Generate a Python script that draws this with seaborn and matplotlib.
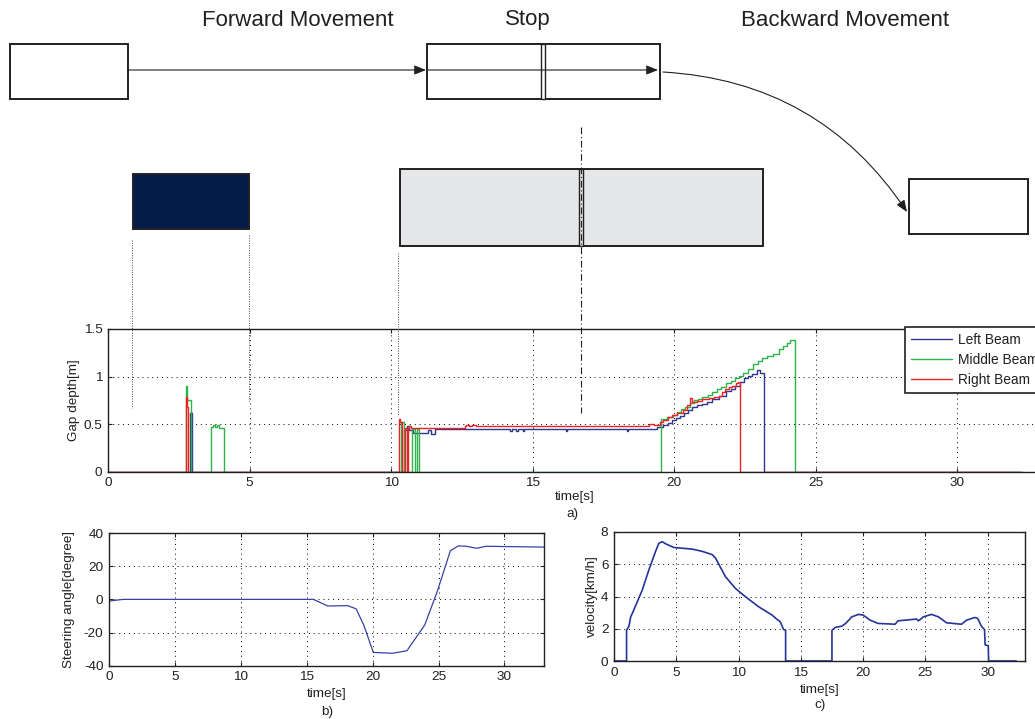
import numpy as np
import pandas as pd
import matplotlib
matplotlib.use("Agg")
import matplotlib.pyplot as plt
from matplotlib.patches import Rectangle, FancyArrowPatch
import seaborn as sns

# ---- values ----
# a) gap depth per beam, step-wise (time [s], depth [m])
left_t = [0, 2.88, 2.97, 10.47, 10.55, 10.62, 10.77, 11.30, 11.42, 11.57, 14.22, 14.27,
          14.42, 14.47, 14.65, 14.70, 16.18, 16.23, 18.33, 18.38, 19.41, 19.60, 19.77,
          19.92, 20.07, 20.22, 20.36, 20.50, 20.65, 20.82, 21.00, 21.18, 21.35, 21.58,
          21.82, 22.00, 22.17, 22.32, 22.47, 22.62, 22.76, 22.94, 23.05, 23.18, 32.3]
left_v = [0, 0.62, 0, 0.44, 0.48, 0.44, 0.41, 0.44, 0.40, 0.45, 0.43, 0.45,
          0.43, 0.45, 0.43, 0.45, 0.43, 0.45, 0.43, 0.45, 0.47, 0.49, 0.51,
          0.54, 0.56, 0.59, 0.62, 0.65, 0.68, 0.70, 0.71, 0.73, 0.76, 0.80,
          0.85, 0.87, 0.90, 0.94, 0.98, 1.01, 1.03, 1.07, 1.04, 0, 0]

middle_t = [0, 2.74, 2.79, 2.93, 3.63, 3.72, 3.78, 3.85, 3.92, 4.09, 10.34, 10.45,
            10.75, 10.83, 10.93, 11.00, 19.53, 19.75, 19.95, 20.10, 20.25, 20.40,
            20.55, 20.70, 20.85, 21.00, 21.20, 21.35, 21.50, 21.65, 21.82, 22.00,
            22.15, 22.30, 22.45, 22.60, 22.80, 22.95, 23.10, 23.30, 23.50, 23.70,
            23.85, 24.00, 24.10, 24.27, 32.3]
middle_v = [0, 0.90, 0.75, 0, 0.47, 0.49, 0.47, 0.49, 0.455, 0, 0.52, 0,
            0.45, 0, 0.45, 0, 0.55, 0.57, 0.60, 0.63, 0.66, 0.68,
            0.72, 0.75, 0.76, 0.79, 0.81, 0.84, 0.87, 0.89, 0.93, 0.95,
            0.98, 1.01, 1.04, 1.08, 1.13, 1.16, 1.20, 1.22, 1.24, 1.29,
            1.32, 1.35, 1.38, 0, 0]

right_t = [0, 2.75, 2.79, 2.84, 10.28, 10.33, 10.38, 10.50, 10.55, 10.60, 10.65,
           10.70, 12.60, 12.65, 12.75, 12.85, 13.00, 13.10, 19.10, 19.30, 19.50,
           19.60, 19.78, 19.94, 20.10, 20.30, 20.45, 20.55, 20.62, 20.80, 21.00,
           21.23, 21.40, 21.60, 21.70, 21.80, 21.95, 22.06, 22.18, 22.27, 22.32, 32.2]
right_v = [0, 0.78, 0.68, 0, 0.55, 0.52, 0, 0.46, 0, 0.46, 0.48,
           0.46, 0.48, 0.49, 0.48, 0.49, 0.48, 0.485, 0.50, 0.49, 0.52,
           0.54, 0.57, 0.60, 0.62, 0.645, 0.70, 0.77, 0.73, 0.74, 0.76,
           0.77, 0.79, 0.80, 0.84, 0.87, 0.89, 0.905, 0.93, 0.94, 0, 0]

# b) steering angle
steer_t = [0, 1.1, 15.5, 16.6, 18.1, 18.75, 19.35, 20.05, 21.5, 22.6, 23.95, 24.9,
           25.9, 26.5, 27.1, 27.9, 28.6, 33]
steer_v = [-1, 0, 0, -4, -3.8, -5.7, -16, -32, -32.5, -31, -15.5, 4.7,
           29.4, 32.2, 32, 30.8, 32, 31.5]

# c) velocity
vel_t = [0, 1.01, 1.01, 1.2, 1.34, 1.47, 2.27, 2.8, 3.34, 3.6, 3.87, 4.14, 4.8,
         6.28, 7.08, 7.88, 8.15, 8.95, 9.75, 10.55, 11.62, 12.69, 13.09, 13.35,
         13.62, 13.78, 13.78, 17.5, 17.5, 17.76, 18.3, 18.6, 19.1, 19.63, 20.0,
         20.57, 21.2, 22.57, 22.8, 24.3, 24.44, 24.6, 24.84, 25.5, 26.04, 26.7,
         27.9, 28.3, 28.97, 29.2, 29.5, 29.75, 29.8, 30.05, 30.08, 32.3]
vel_v = [0, 0, 1.91, 2.16, 2.74, 2.95, 4.4, 5.65, 6.8, 7.3, 7.4, 7.27, 7.04,
         6.94, 6.8, 6.6, 6.38, 5.23, 4.5, 3.99, 3.36, 2.85, 2.58, 2.43,
         1.95, 1.91, 0, 0, 1.9, 2.08, 2.16, 2.33, 2.74, 2.89, 2.85,
         2.53, 2.33, 2.28, 2.49, 2.6, 2.49, 2.58, 2.74, 2.89, 2.74, 2.37,
         2.28, 2.53, 2.7, 2.64, 2.16, 1.95, 1.0, 0.95, 0, 0]

beam_names = ["Left Beam", "Middle Beam", "Right Beam"]
beam_colors = ["#2b3990", "#2db34a", "#ed2024"]
ink = "#231f20"

sns.set_style("white")
plt.rcParams['font.family'] = ['Liberation Sans', 'DejaVu Sans']
plt.rcParams['font.size'] = 9.5
plt.rcParams['text.color'] = ink
plt.rcParams['axes.labelcolor'] = ink
plt.rcParams['axes.unicode_minus'] = False

W, H = 1035, 719
fig = plt.figure(figsize=(W / 100, H / 100), dpi=100)


def px_axes(l, t, r, b):
    return fig.add_axes([l / W, 1 - b / H, (r - l) / W, (b - t) / H])


def matlab_look(ax, l, t, r, b, ylab, ylab_x):
    ax.grid(True, color='black', linestyle=(0, (1, 4)), linewidth=0.7)
    ax.tick_params(direction='in', length=3, top=True, right=True, bottom=True,
                   left=True, labelsize=9.7, colors=ink, pad=4)
    for s in ax.spines.values():
        s.set_linewidth(1.0)
        s.set_color(ink)
    ax.set_xlabel("time[s]", fontsize=9.7)
    ax.set_ylabel(ylab, fontsize=9.7)
    ax.yaxis.label.set_va('center')
    ax.yaxis.set_label_coords((ylab_x - l) / (r - l), 0.5)


# ---- a) gap depth ----
ax1 = px_axes(108, 329, 1042, 471.7)
for t, v, name, c in zip([left_t, middle_t, right_t], [left_v, middle_v, right_v],
                         beam_names, beam_colors):
    sns.lineplot(x=t, y=v, ax=ax1, color=c, lw=1.0, sort=False, estimator=None,
                 drawstyle='steps-post', label=name)
ax1.set_xlim(0, 33)
ax1.set_ylim(0, 1.5)
ax1.set_xticks(range(0, 35, 5))
ax1.set_yticks([0, 0.5, 1, 1.5])
ax1.set_yticklabels(["0", "0.5", "1", "1.5"])
matlab_look(ax1, 108, 329, 1042, 471.7, "Gap depth[m]", 74)
ax1.xaxis.label.set_va('center')
ax1.xaxis.set_label_coords((575 - 108) / (1042 - 108), -(497 - 471.7) / (471.7 - 329))
leg = ax1.legend(loc='upper left', bbox_to_anchor=(905 / W, 1 - 327 / H),
                 bbox_transform=fig.transFigure, frameon=True, fancybox=False,
                 edgecolor=ink, framealpha=1, handlelength=3, handletextpad=0.4,
                 labelspacing=0.42, borderpad=0.45, borderaxespad=0, fontsize=9.9)
leg.get_frame().set_linewidth(1.2)

# ---- b) steering angle ----
ax2 = px_axes(109, 533, 544, 665.7)
sns.lineplot(x=steer_t, y=steer_v, ax=ax2, color="#3443a3", lw=0.9, sort=False,
             estimator=None)
ax2.set_xlim(0, 33)
ax2.set_ylim(-40, 40)
ax2.set_xticks(range(0, 35, 5))
ax2.set_yticks(range(-40, 41, 20))
matlab_look(ax2, 109, 533, 544, 665.7, "Steering angle[degree]", 69)
ax2.xaxis.label.set_va('center')
ax2.xaxis.set_label_coords(0.5, -(694 - 665.7) / (665.7 - 533))

# ---- c) velocity ----
ax3 = px_axes(614, 532, 1025, 661)
sns.lineplot(x=vel_t, y=vel_v, ax=ax3, color="#23349b", lw=1.2, sort=False,
             estimator=None)
ax3.set_xlim(0, 33)
ax3.set_ylim(0, 8)
ax3.set_xticks(range(0, 35, 5))
ax3.set_yticks(range(0, 9, 2))
matlab_look(ax3, 614, 532, 1025, 661, "velocity[km/h]", 592)
ax3.xaxis.label.set_va('center')
ax3.xaxis.set_label_coords(0.5, -(690 - 661) / (661 - 532))

fig.text(572 / W, 1 - 514 / H, "a)", ha='center', va='center', fontsize=9.7)
fig.text(327 / W, 1 - 712 / H, "b)", ha='center', va='center', fontsize=9.7)
fig.text(820 / W, 1 - 705 / H, "c)", ha='center', va='center', fontsize=9.7)

# ---- schematic overlay in pixel units ----
ov = fig.add_axes([0, 0, 1, 1], zorder=5)
ov.set_xlim(0, W)
ov.set_ylim(H, 0)
ov.axis('off')


def box(x0, y0, x1, y1, fc='white', lw=1.4):
    ov.add_patch(Rectangle((x0, y0), x1 - x0, y1 - y0, facecolor=fc,
                           edgecolor=ink, linewidth=lw))


def arrow(p0, p1, rad=0.0):
    ov.add_patch(FancyArrowPatch(p0, p1, arrowstyle='-|>,head_length=0.7,head_width=0.28',
                                 mutation_scale=10, lw=0.8, color=ink, shrinkA=0,
                                 shrinkB=0, connectionstyle=f"arc3,rad={rad}"))


ov.text(298, 20, "Forward Movement", ha='center', va='center', fontsize=16)
ov.text(528, 19, "Stop", ha='center', va='center', fontsize=16)
ov.text(845, 20, "Backward Movement", ha='center', va='center', fontsize=16)

box(10, 44, 128, 99)
box(427, 44, 660, 99)
box(541, 44, 545, 99, lw=1.0)
box(909, 179, 1028, 234)
box(133, 174, 249, 229, fc="#041c4a")
box(400, 169, 763, 246, fc="#e6e7e8")
box(579, 169, 583, 246, fc="#e6e7e8", lw=1.0)

arrow((128, 70), (426, 70))
arrow((427, 70), (658, 70))
arrow((663, 72), (907, 212), rad=-0.25)

for x, y0, y1 in [(132, 240, 408), (249, 235, 401), (398, 253, 415)]:
    ov.plot([x, x], [y0, y1], color="#444444", lw=0.7, linestyle=(0, (1, 1.5)))
ov.plot([581, 581], [127, 413], color=ink, lw=0.8, linestyle=(0, (6, 2.5, 1, 2.5)))

fig.savefig("out.png", dpi=100)
